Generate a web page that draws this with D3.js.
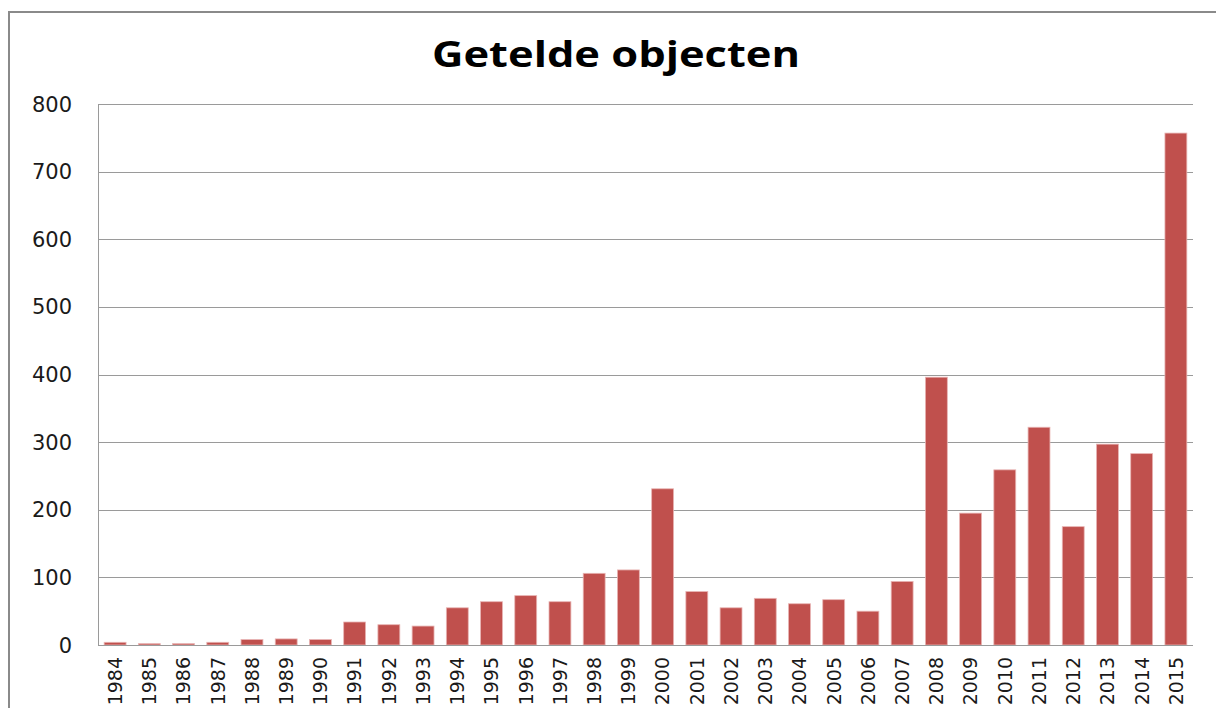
<!DOCTYPE html>
<html>
<head>
<meta charset="utf-8">
<script src="https://cdn.jsdelivr.net/npm/d3@7"></script>
<style>
  body { margin: 0; background: #fff; }
  svg { display: block; }
</style>
</head>
<body>
<div id="chart"></div>
<script>
var years = ['1984','1985','1986','1987','1988','1989','1990','1991','1992','1993',
  '1994','1995','1996','1997','1998','1999','2000','2001','2002','2003','2004',
  '2005','2006','2007','2008','2009','2010','2011','2012','2013','2014','2015'];
var counts = [4, 2, 2, 4, 8, 9, 8, 34, 30, 28,
  55, 64, 73, 64, 106, 111, 231, 79, 55, 69, 61,
  67, 50, 94, 396, 195, 259, 322, 175, 297, 283, 757];
var yTicks = [0, 100, 200, 300, 400, 500, 600, 700, 800];
var chartTitle = 'Getelde objecten';

var width = 1216, height = 708;
var plot = { left: 98, right: 1193, top: 104, bottom: 645 };

var svg = d3.select('#chart').append('svg')
  .attr('width', width)
  .attr('height', height);

// outer chart border (only top and left edges are inside the picture)
svg.append('rect')
  .attr('x', 9).attr('y', 12)
  .attr('width', width + 10).attr('height', height + 10)
  .attr('fill', '#fff')
  .attr('stroke', '#8a8a8a')
  .attr('stroke-width', 2);

var x = d3.scaleBand()
  .domain(years)
  .range([plot.left, plot.right])
  .paddingInner(0.36)
  .paddingOuter(0.18);

var y = d3.scaleLinear()
  .domain([0, 800])
  .range([plot.bottom, plot.top]);

// gridlines
svg.append('g')
  .selectAll('line')
  .data(yTicks)
  .enter()
  .append('line')
  .attr('x1', plot.left)
  .attr('x2', plot.right)
  .attr('y1', d => Math.round(y(d)) + 0.5)
  .attr('y2', d => Math.round(y(d)) + 0.5)
  .attr('stroke', '#9a9a9a')
  .attr('stroke-width', 1);

// y axis line
svg.append('line')
  .attr('x1', plot.left + 0.5).attr('x2', plot.left + 0.5)
  .attr('y1', plot.top).attr('y2', plot.bottom)
  .attr('stroke', '#9a9a9a');

// y tick labels
svg.append('g')
  .selectAll('text')
  .data(yTicks)
  .enter()
  .append('text')
  .attr('x', plot.left - 26)
  .attr('y', d => y(d))
  .attr('dy', '0.36em')
  .attr('text-anchor', 'end')
  .attr('font-family', 'DejaVu Sans')
  .attr('font-size', 21)
  .attr('fill', '#1a1a1a')
  .text(d => d);

// bars
svg.append('g')
  .selectAll('rect')
  .data(counts)
  .enter()
  .append('rect')
  .attr('x', (d, i) => x(years[i]))
  .attr('y', d => y(d))
  .attr('width', x.bandwidth())
  .attr('height', d => y(0) - y(d))
  .attr('fill', '#c0504d')
  .attr('stroke', '#e8b4b3')
  .attr('stroke-width', 0.8);

// bottom axis line
svg.append('line')
  .attr('x1', plot.left).attr('x2', plot.right)
  .attr('y1', plot.bottom + 0.5).attr('y2', plot.bottom + 0.5)
  .attr('stroke', '#9a9a9a');

// x labels, rotated
svg.append('g')
  .selectAll('text')
  .data(years)
  .enter()
  .append('text')
  .attr('transform', d => 'translate(' + (x(d) + x.bandwidth() / 2) + ',' + (plot.bottom + 12) + ') rotate(-90)')
  .attr('dy', '0.36em')
  .attr('text-anchor', 'end')
  .attr('font-family', 'DejaVu Sans')
  .attr('font-size', 19)
  .attr('fill', '#1a1a1a')
  .text(d => d);

// title
svg.append('text')
  .attr('x', 616)
  .attr('y', 67)
  .attr('text-anchor', 'middle')
  .attr('font-family', 'Open Sans')
  .attr('font-weight', 'bold')
  .attr('font-size', 35)
  .attr('textLength', 368)
  .attr('lengthAdjust', 'spacingAndGlyphs')
  .attr('fill', '#000')
  .text(chartTitle);
</script>
</body>
</html>
